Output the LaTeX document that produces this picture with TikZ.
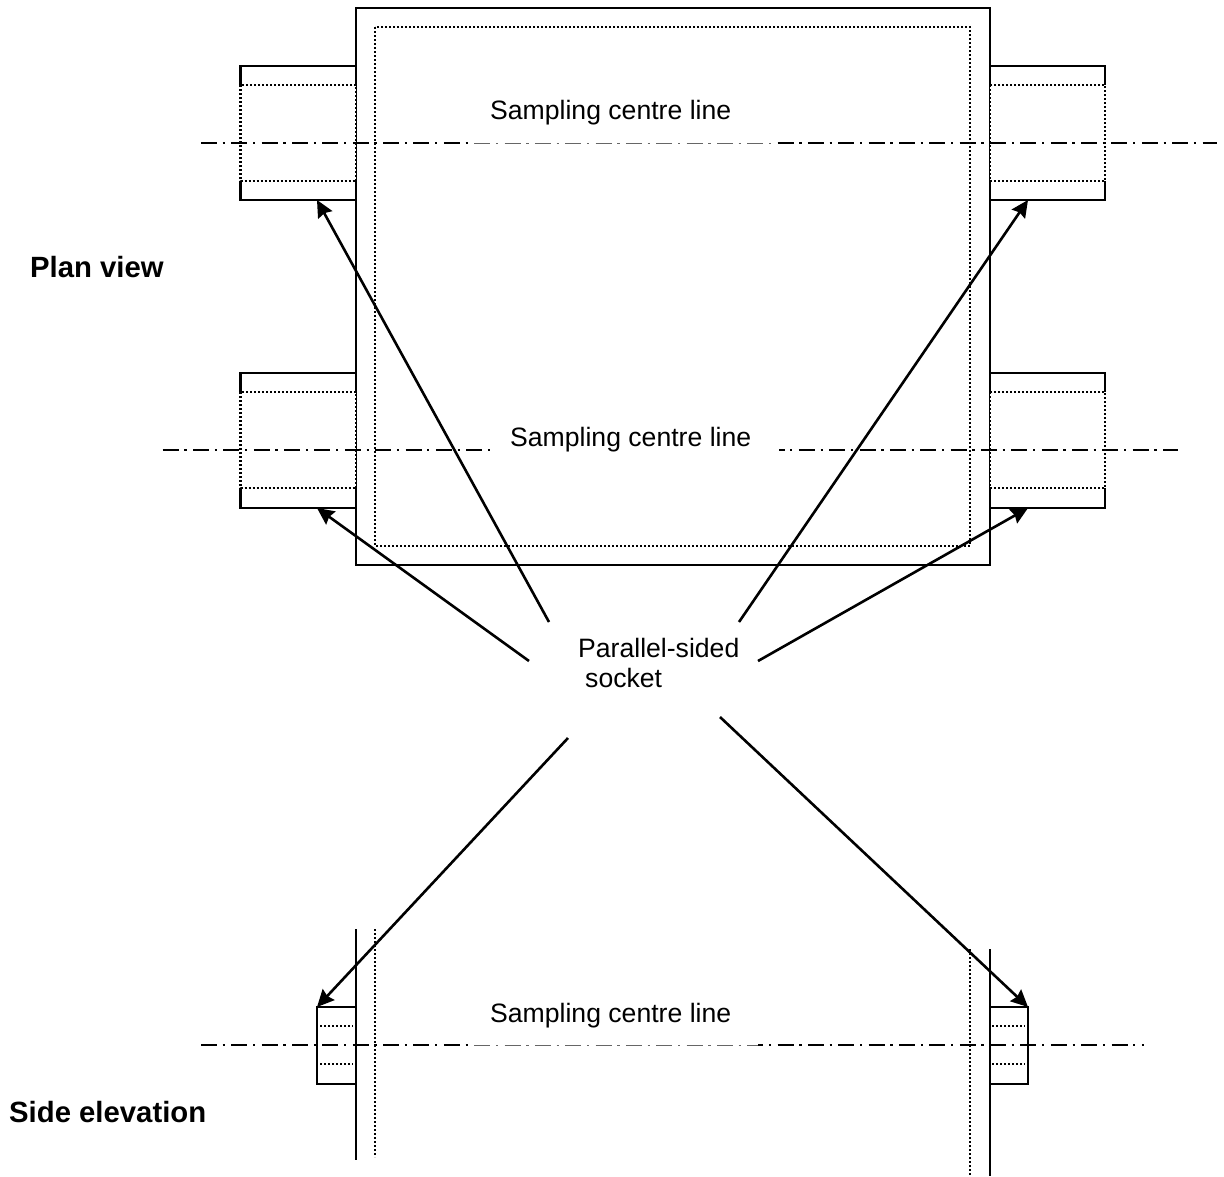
\documentclass[tikz,border=0pt]{standalone}
\usepackage{fontspec}
\setmainfont{Liberation Sans}
\usetikzlibrary{arrows.meta}
\tikzset{
  wall/.style={line width=2.5pt},
  wallthin/.style={line width=1pt},
  hidden/.style={line width=2.4pt, dash pattern=on 2pt off 2pt},
  hiddensmall/.style={line width=2.4pt, dash pattern=on 2pt off 2pt},
  centreline/.style={line width=2.5pt, dash pattern=on 16pt off 5.7pt on 2.25pt off 6.4pt},
  centrefaint/.style={line width=1pt, black!60, dash pattern=on 16pt off 5.7pt on 2.25pt off 6.4pt},
  pointer/.style={line width=2.6pt, -{Stealth[length=17pt,width=16pt,inset=2pt]}},
  lbl/.style={anchor=base west, inner sep=0pt, font=\fontsize{26.6pt}{30pt}\selectfont},
  head/.style={lbl, font=\fontsize{29.3pt}{32pt}\selectfont\bfseries}
}
\begin{document}
\begin{tikzpicture}[x=1pt, y=-1pt]
\useasboundingbox (0,0) rectangle (1224,1176);
% plan view: body
\draw[wall] (356,85) -- (356,8) -- (990,8) -- (990,85);
\draw[wall] (356,181) -- (356,392);
\draw[wall] (990,181) -- (990,392);
\draw[wall] (356,488) -- (356,565) -- (990,565) -- (990,488);
\draw[wallthin] (356.5,85) -- (356.5,181);
\draw[wallthin] (356.5,392) -- (356.5,488);
\draw[wallthin] (989.5,85) -- (989.5,181);
\draw[wallthin] (989.5,392) -- (989.5,488);
\draw[hidden] (375,27) rectangle (970,546);
% plan view: sockets
\draw[wall] (356,66) -- (240.5,66) -- (240.5,85);
\draw[wall] (240.5,181) -- (240.5,200) -- (356,200);
\draw[hidden] (240.5,85) rectangle (356,181);
\draw[wall] (990,66) -- (1105,66) -- (1105,85);
\draw[wall] (1105,181) -- (1105,200) -- (990,200);
\draw[hidden] (990,85) rectangle (1105,181);
\draw[wall] (356,373) -- (240.5,373) -- (240.5,392);
\draw[wall] (240.5,488) -- (240.5,508) -- (356,508);
\draw[hidden] (240.5,392) rectangle (356,488);
\draw[wall] (990,373) -- (1105,373) -- (1105,392);
\draw[wall] (1105,488) -- (1105,508) -- (990,508);
\draw[hidden] (990,392) rectangle (1105,488);
% plan view: centre lines
\draw[centreline] (201,143) -- (473,143);
\draw[centrefaint] (474.2,143) -- (777,143);
\draw[centreline] (777.6,143) -- (1217,143);
\draw[centreline] (162.7,450) -- (490,450);
\draw[centreline, dash phase=10.5pt] (779,450) -- (1178,450);
% side elevation
\draw[wall] (356,929) -- (356,1160);
\draw[hidden] (375,929) -- (375,1157);
\draw[wall] (990,949) -- (990,1176);
\draw[hidden] (970,949) -- (970,1176);
\draw[wall] (317,1007) rectangle (356,1084);
\draw[wall] (990,1007) rectangle (1028,1084);
\draw[hiddensmall] (320,1026) -- (353,1026);
\draw[hiddensmall] (320,1064) -- (353,1064);
\draw[hiddensmall] (992,1026) -- (1025,1026);
\draw[hiddensmall] (992,1064) -- (1025,1064);
\draw[centreline] (201,1045) -- (473,1045);
\draw[centrefaint] (474.2,1045) -- (758,1045);
\draw[centreline, dash phase=10.7pt] (758,1045) -- (1144,1045);
% labels
\node[head] (planlbl) at (30,277) {Plan view};
\node[head] (sidelbl) at (9,1122) {Side elevation};
\node[lbl] (linetop) at (490,119) {Sampling centre line};
\node[lbl] (linemid) at (510,446) {Sampling centre line};
\node[lbl] (linelow) at (490,1022) {Sampling centre line};
\node[lbl] (socketa) at (578,657) {Parallel-sided};
\node[lbl] (socketb) at (585,687) {socket};
% pointers
\coordinate (fromtl) at (549,622);
\coordinate (fromtr) at (739,622);
\coordinate (fromml) at (529,661);
\coordinate (frommr) at (758,661);
\coordinate (fromll) at (568,738);
\coordinate (fromlr) at (720,717);
\coordinate (tiptl) at (317,200);
\coordinate (tiptr) at (1028,200);
\coordinate (tipml) at (317,508);
\coordinate (tipmr) at (1028,508);
\coordinate (tipll) at (317,1007);
\coordinate (tiplr) at (1028,1007);
\draw[pointer] (fromtl) -- (tiptl);
\draw[pointer] (fromtr) -- (tiptr);
\draw[pointer] (fromml) -- (tipml);
\draw[pointer] (frommr) -- (tipmr);
\draw[pointer] (fromll) -- (tipll);
\draw[pointer] (fromlr) -- (tiplr);
\end{tikzpicture}
\end{document}
